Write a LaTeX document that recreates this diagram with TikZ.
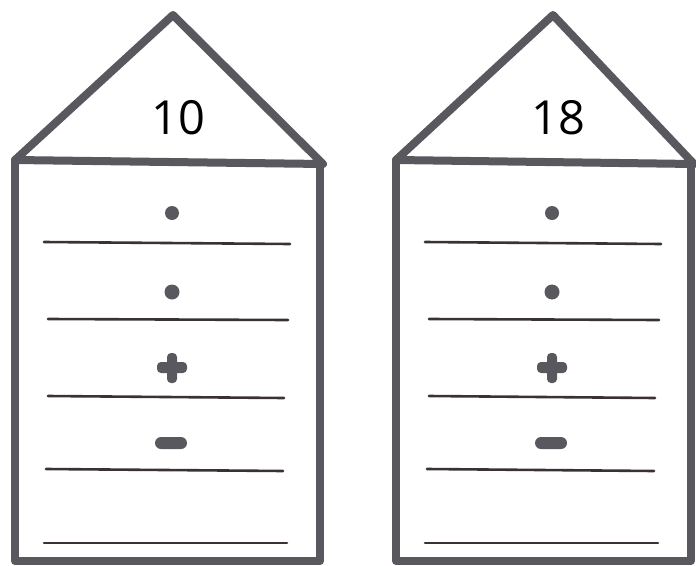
\documentclass[tikz,border=0pt]{standalone}
\usepackage{fontspec}
\setmainfont{Open Sans}
\usetikzlibrary{calc}
\definecolor{PenGray}{RGB}{88,88,94}
\definecolor{InkDark}{RGB}{58,50,50}

\begin{document}
\begin{tikzpicture}[x=1pt, y=-1pt,
  wall/.style={PenGray, line width=8pt, line join=round, line cap=round},
  rule/.style={InkDark, line width=2.6pt, line cap=round},
  blob/.style={PenGray, rounded corners=4pt},
  numtext/.style={font=\fontsize{47}{50}\selectfont, inner sep=0pt}]
  \useasboundingbox (0,0) rectangle (696,565);

  % two houses: left wall / right wall / apex / number
  \foreach \xl/\xr/\xa/\num [count=\i] in {15/320/173/10, 396/691/553/18} {
    % Roof
    \draw[wall] (\xl,160) -- (\xa,15) -- (\xr+3,164) -- cycle;
    % Body
    \draw[wall] (\xl,160) -- (\xl,561) -- (\xr,561) -- (\xr,164);
    \node[numtext] (num\i) at (\xa+5,118) {\num};

    % Answer lines
    \draw[rule] (\xl+29,242) -- (\xr-30,244);
    \draw[rule] (\xl+33,319) -- (\xr-32,320);
    \draw[rule] (\xl+33,396) -- (\xr-36,398);
    \draw[rule] (\xl+31,469) -- (\xr-37,471);
    \draw[rule] (\xl+29,543) -- (\xr-33,543);

    % Signs
    \fill[PenGray] (\xa-1,213) circle (7);
    \fill[PenGray] (\xa-1,292) circle (7.5);
    \fill[blob] (\xa-6,353) rectangle (\xa+4,383);
    \fill[blob] (\xa-16,362) rectangle (\xa+14,373);
    \fill[PenGray, rounded corners=6pt] (\xa-18,437) rectangle (\xa+14,449);
  }
\end{tikzpicture}
\end{document}
